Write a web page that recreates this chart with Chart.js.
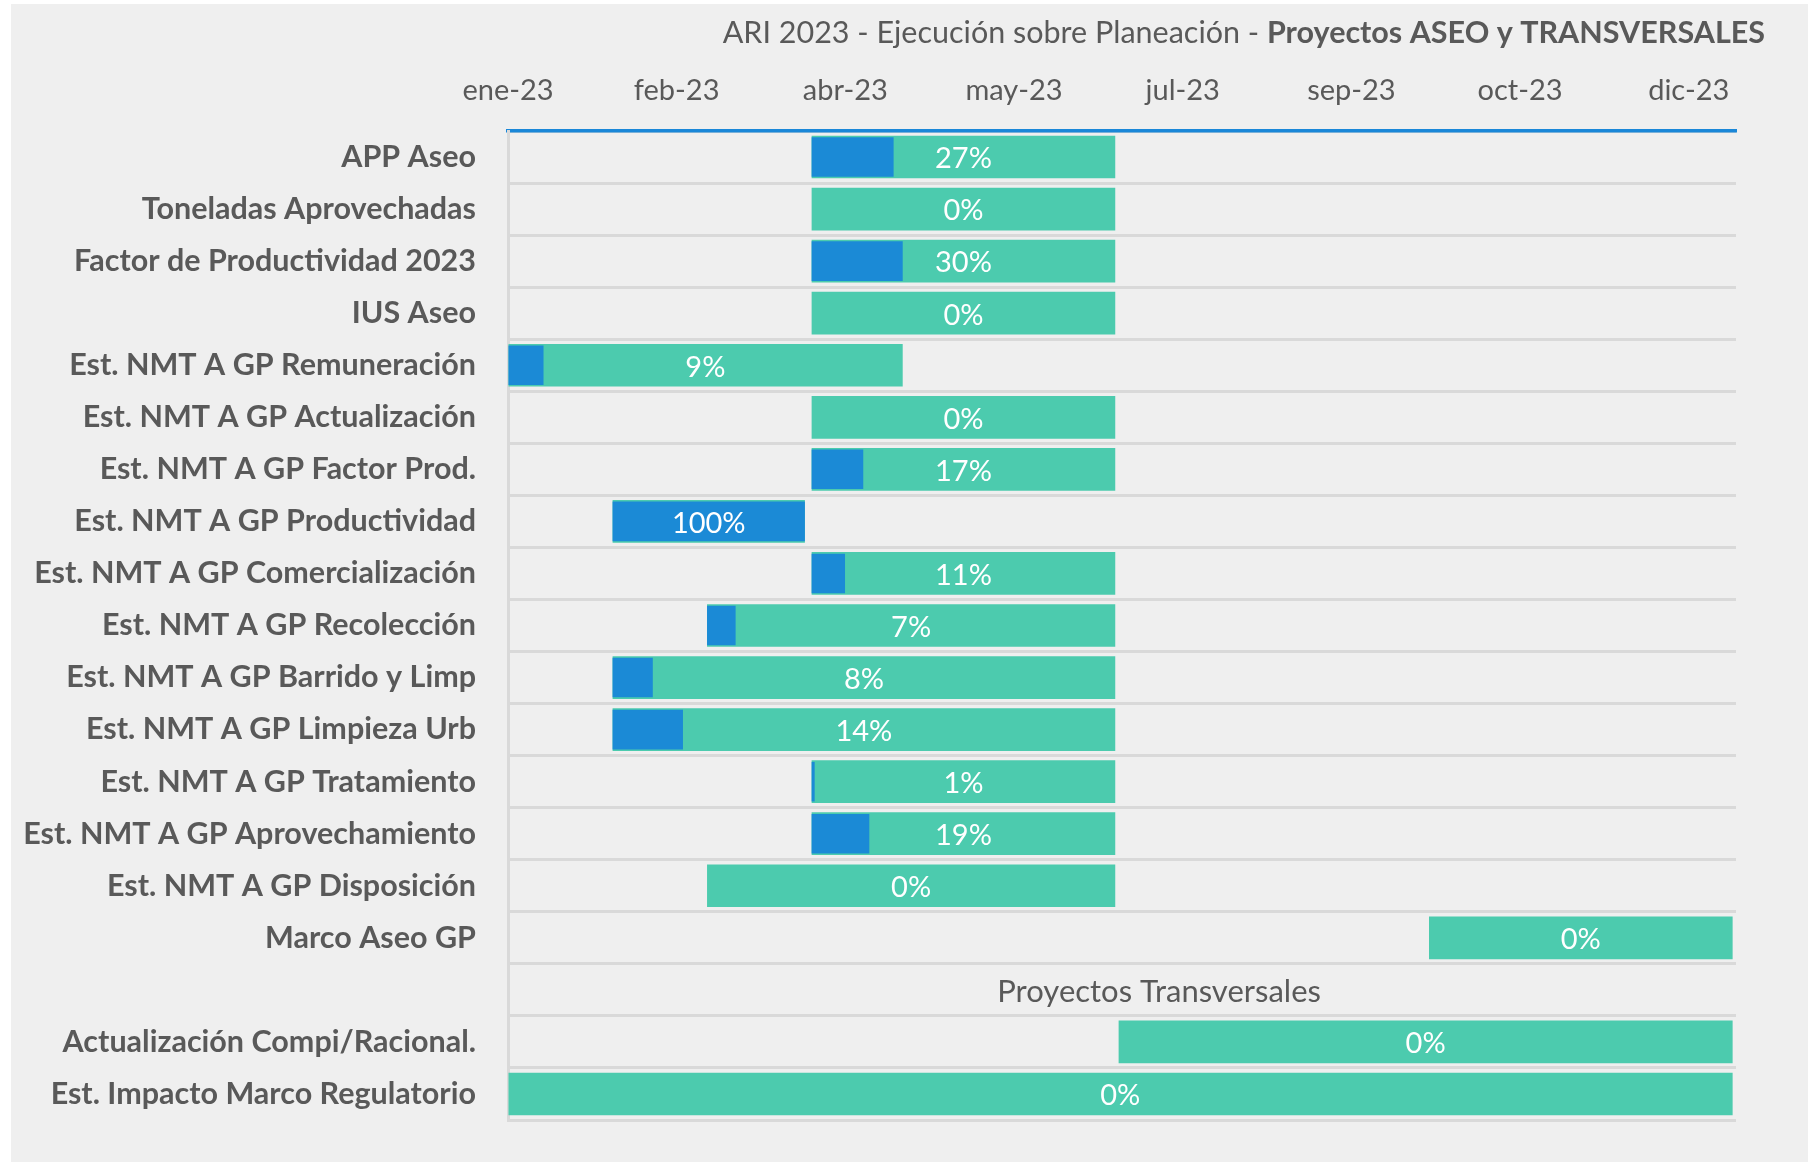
<!DOCTYPE html>
<html>
<head>
<meta charset="utf-8">
<script src="https://cdn.jsdelivr.net/npm/chart.js@4.4.0/dist/chart.umd.min.js"></script>
<style>
  html, body { margin: 0; padding: 0; background: #ffffff; }
  #wrap { width: 1808px; height: 1162px; }
</style>
</head>
<body>
<div id="wrap"><canvas id="gantt" width="1808" height="1162"></canvas></div>
<script>
// rows of the gantt, '' is the "Proyectos Transversales" separator row
const categories = [
  'APP Aseo', 'Toneladas Aprovechadas', 'Factor de Productividad 2023', 'IUS Aseo',
  'Est. NMT A GP Remuneración', 'Est. NMT A GP Actualización', 'Est. NMT A GP Factor Prod.',
  'Est. NMT A GP Productividad', 'Est. NMT A GP Comercialización', 'Est. NMT A GP Recolección',
  'Est. NMT A GP Barrido y Limp', 'Est. NMT A GP Limpieza Urb', 'Est. NMT A GP Tratamiento',
  'Est. NMT A GP Aprovechamiento', 'Est. NMT A GP Disposición', 'Marco Aseo GP',
  '', 'Actualización Compi/Racional.', 'Est. Impacto Marco Regulatorio'
];
const startDates = [
  '2023-04-01', '2023-04-01', '2023-04-01', '2023-04-01',
  '2023-01-01', '2023-04-01', '2023-04-01',
  '2023-02-01', '2023-04-01', '2023-03-01',
  '2023-02-01', '2023-02-01', '2023-04-01',
  '2023-04-01', '2023-03-01', '2023-10-01',
  null, '2023-07-01', '2023-01-01'
];
const endDates = [
  '2023-06-30', '2023-06-30', '2023-06-30', '2023-06-30',
  '2023-04-28', '2023-06-30', '2023-06-30',
  '2023-03-30', '2023-06-30', '2023-06-30',
  '2023-06-30', '2023-06-30', '2023-06-30',
  '2023-06-30', '2023-06-30', '2023-12-30',
  null, '2023-12-30', '2023-12-30'
];
// % ejecutado
const avance = [27, 0, 30, 0, 9, 0, 17, 100, 11, 7, 8, 14, 1, 19, 0, 0, null, 0, 0];

const tickDates = ['2023-01-01', '2023-02-20', '2023-04-11', '2023-05-31', '2023-07-20', '2023-09-08', '2023-10-28', '2023-12-17'];
const tickLabels = ['ene-23', 'feb-23', 'abr-23', 'may-23', 'jul-23', 'sep-23', 'oct-23', 'dic-23'];
const axisMin = '2023-01-01';
const axisMax = '2023-12-31';

const sectionLabel = 'Proyectos Transversales';
const sectionLabelDate = '2023-07-13';
const sectionRow = 16;

const FONT = 'Lato, "Open Sans", sans-serif';
const TEXT = '#595959';

function day(d) {
  const [y, m, dd] = d.split('-').map(Number);
  return (Date.UTC(y, m - 1, dd) - Date.UTC(2023, 0, 1)) / 86400000;
}

const planned = categories.map((c, i) => startDates[i] ? [day(startDates[i]), day(endDates[i])] : null);
const executed = categories.map((c, i) => {
  if (!startDates[i] || !avance[i]) return null;
  const s = day(startDates[i]), e = day(endDates[i]);
  return [s, s + (e - s) * avance[i] / 100];
});

const backgroundPlugin = {
  id: 'bg',
  beforeDraw(chart) {
    const ctx = chart.ctx;
    ctx.save();
    ctx.fillStyle = '#efefef';
    ctx.fillRect(11, 4, chart.width - 11, chart.height - 4);
    ctx.restore();
  }
};

const textPlugin = {
  id: 'texts',
  afterDatasetsDraw(chart) {
    const ctx = chart.ctx;
    const x = chart.scales.x, y = chart.scales.y;
    ctx.save();
    // percent labels
    ctx.fillStyle = '#ffffff';
    ctx.font = '29px ' + FONT;
    ctx.textAlign = 'center';
    ctx.textBaseline = 'middle';
    planned.forEach((p, i) => {
      if (!p || avance[i] === null) return;
      ctx.fillText(avance[i] + '%', x.getPixelForValue((p[0] + p[1]) / 2), y.getPixelForValue(i) + 2);
    });
    // section label
    ctx.fillStyle = TEXT;
    ctx.font = '31px ' + FONT;
    ctx.fillText(sectionLabel, x.getPixelForValue(day(sectionLabelDate)), y.getPixelForValue(sectionRow) + 2);

    // title, right aligned, bold tail
    const part1 = 'ARI 2023 - Ejecución sobre Planeación - ';
    const part2 = 'Proyectos ASEO y TRANSVERSALES';
    ctx.textAlign = 'left';
    ctx.font = 'bold 30.5px ' + FONT;
    const w2 = ctx.measureText(part2).width;
    ctx.font = '30.5px ' + FONT;
    const w1 = ctx.measureText(part1).width;
    const right = 1765;
    ctx.fillText(part1, right - w2 - w1, 33);
    ctx.font = 'bold 30.5px ' + FONT;
    ctx.fillText(part2, right - w2, 33);
    ctx.restore();
  }
};

new Chart(document.getElementById('gantt'), {
  type: 'bar',
  data: {
    labels: categories,
    datasets: [
      {
        label: 'Ejecutado',
        data: executed,
        backgroundColor: '#1b8ad6',
        barPercentage: 0.76,
        categoryPercentage: 1,
        grouped: false,
        order: 0
      },
      {
        label: 'Planeado',
        data: planned,
        backgroundColor: '#4ccbae',
        barPercentage: 0.82,
        categoryPercentage: 1,
        grouped: false,
        order: 1
      }
    ]
  },
  options: {
    indexAxis: 'y',
    responsive: false,
    animation: false,
    devicePixelRatio: 1,
    layout: { padding: { left: 0, top: 0, right: 72, bottom: 42 } },
    plugins: {
      legend: { display: false },
      tooltip: { enabled: false },
      title: { display: false }
    },
    scales: {
      x: {
        position: 'top',
        min: day(axisMin),
        max: day(axisMax),
        z: 1,
        afterFit(scale) { scale.height = 131; },
        afterBuildTicks(scale) { scale.ticks = tickDates.map(d => ({ value: day(d) })); },
        grid: { drawOnChartArea: false, drawTicks: false },
        border: { display: true, color: '#1a87d8', width: 3.5 },
        ticks: {
          autoSkip: false,
          maxRotation: 0,
          padding: 23,
          color: TEXT,
          font: { family: FONT, size: 29 },
          callback(value, index) { return tickLabels[index]; }
        }
      },
      y: {
        afterFit(scale) {
          scale.width = 508;
          scale.paddingTop = 0;
          scale.paddingBottom = 0;
        },
        grid: { offset: true, color: '#d9d9d9', lineWidth: 3, drawTicks: false },
        border: { display: true, color: '#d9d9d9', width: 3 },
        ticks: {
          padding: 32,
          color: TEXT,
          font: { family: FONT, size: 30.5, weight: 'bold' }
        }
      }
    }
  },
  plugins: [backgroundPlugin, textPlugin]
});
</script>
</body>
</html>
